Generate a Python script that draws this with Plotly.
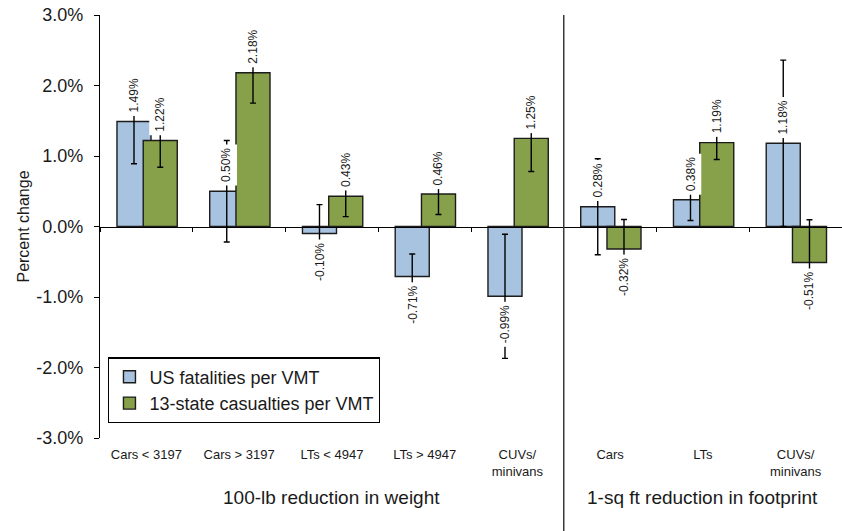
import plotly.graph_objects as go

# Effect of a 100-lb weight reduction / 1-sq ft footprint reduction on risk
categories = ["Cars < 3197", "Cars > 3197", "LTs < 4947", "LTs > 4947",
              "CUVs/<br>minivans", "Cars", "LTs", "CUVs/<br>minivans"]
us_fatalities = [1.49, 0.50, -0.10, -0.71, -0.99, 0.28, 0.38, 1.18]
us_fatalities_err = [0.60, 0.72, 0.41, 0.32, 0.88, 0.68, 0.295, 1.18]
state_casualties = [1.22, 2.18, 0.43, 0.46, 1.25, -0.32, 1.19, -0.51]
state_casualties_err = [0.38, 0.43, 0.29, 0.29, 0.47, 0.42, 0.24, 0.605]
y_ticks = [-3, -2, -1, 0, 1, 2, 3]
y_tick_text = ["-3.0%", "-2.0%", "-1.0%", "0.0%", "1.0%", "2.0%", "3.0%"]
group_labels = ["100-lb reduction in weight", "1-sq ft reduction in footprint"]

BLUE = "#A7C3E0"
GREEN = "#87A04A"
EDGE = "#1c1c1c"
BAR_W = 0.367
BLUE_OFF = -0.317
GREEN_OFF = -0.034
FONT = "Liberation Sans, Arial, sans-serif"

xpos = list(range(len(categories)))

fig = go.Figure()
fig.add_trace(go.Bar(
    x=xpos, y=us_fatalities, name="US fatalities per VMT",
    width=BAR_W, offset=BLUE_OFF,
    marker=dict(color=BLUE, line=dict(color=EDGE, width=1.4)),
    error_y=dict(type="data", array=us_fatalities_err, color="black",
                 thickness=1.4, width=3),
))
# second series lives on the axis that crosses at zero, so it is drawn on top
fig.add_trace(go.Bar(
    x=xpos, y=state_casualties, name="13-state casualties per VMT",
    xaxis="x2",
    width=BAR_W, offset=GREEN_OFF,
    marker=dict(color=GREEN, line=dict(color=EDGE, width=1.4)),
    error_y=dict(type="data", array=state_casualties_err, color="black",
                 thickness=1.4, width=3),
))

# rotated value labels at the outer end of each bar
label_font = dict(family=FONT, size=12, color="#1a1a1a")
for values, off in ((us_fatalities, BLUE_OFF), (state_casualties, GREEN_OFF)):
    for i, v in enumerate(values):
        fig.add_annotation(
            x=i + off + BAR_W / 2, y=v, xref="x", yref="y",
            text=f"{v:.2f}%", textangle=-90, showarrow=False,
            font=label_font, bgcolor="white", borderpad=3,
            xanchor="center", yanchor="bottom" if v >= 0 else "top",
            yshift=5 if v >= 0 else -5,
        )

# group captions under the category labels
for xc, txt in ((2, group_labels[0]), (6, group_labels[1])):
    fig.add_annotation(x=xc, y=-0.14, xref="x", yref="paper", text=txt,
                       showarrow=False, font=dict(family=FONT, size=19, color="#1a1a1a"),
                       xanchor="center", yanchor="middle")

# divider between the two groups
fig.add_shape(type="line", xref="x", yref="paper", x0=4.5, x1=4.5, y0=1, y1=-0.23,
              line=dict(color="#3a3a3a", width=1.5))

fig.update_layout(
    width=842, height=531,
    margin=dict(l=100, r=0, t=15, b=93),
    paper_bgcolor="white", plot_bgcolor="white",
    barmode="overlay",
    showlegend=True,
    legend=dict(x=0.011, y=0.191, xanchor="left", yanchor="top",
                bgcolor="white", bordercolor="black", borderwidth=1.3,
                font=dict(family=FONT, size=18, color="#1a1a1a")),
    xaxis=dict(range=[-0.5, 7.5], tickvals=xpos, ticktext=categories,
               showline=False, showgrid=False, zeroline=False, ticks="",
               ticklabelstandoff=7,
               tickfont=dict(family=FONT, size=13, color="#1a1a1a")),
    xaxis2=dict(range=[-0.5, 7.5], overlaying="x", anchor="free", position=0.5,
                side="bottom", showline=True, linecolor="black", linewidth=1.3,
                tickvals=[i - 0.5 for i in range(len(categories) + 1)],
                ticks="outside", ticklen=4, tickcolor="black", tickwidth=1.3,
                showticklabels=False, showgrid=False, zeroline=False),
    yaxis=dict(range=[-3, 3], tickvals=y_ticks, ticktext=y_tick_text,
               showline=True, linecolor="black", linewidth=1.3,
               ticks="outside", ticklen=5, tickcolor="black", tickwidth=1.3,
               showgrid=False, zeroline=False, ticklabelstandoff=7,
               tickfont=dict(family=FONT, size=18, color="#1a1a1a"),
               title=dict(text="Percent change", standoff=2,
                          font=dict(family=FONT, size=16, color="#1a1a1a"))),
)

fig.write_html("out.html")
